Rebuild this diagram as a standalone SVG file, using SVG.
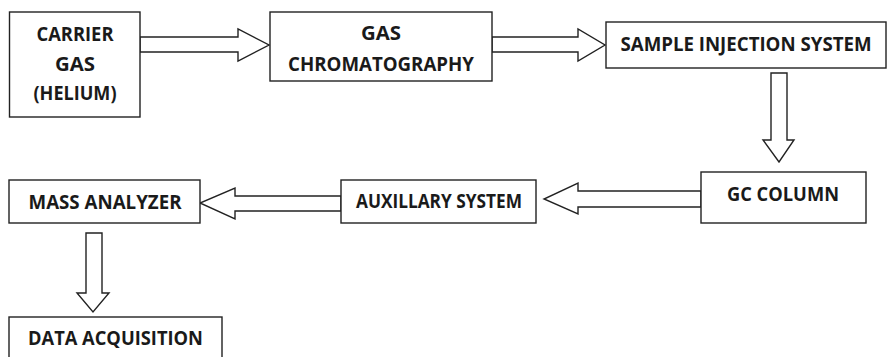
<svg xmlns="http://www.w3.org/2000/svg" width="887" height="357" viewBox="0 0 887 357">
<style>
.box{fill:#fff;stroke:#222;stroke-width:1.4}
.arr{fill:#fff;stroke:#222;stroke-width:1.4;stroke-linejoin:miter}
.t{font-family:"Open Sans","Liberation Sans",sans-serif;font-weight:bold;font-size:19.5px;fill:#1a1a1a;text-anchor:middle}
</style>
<rect width="887" height="357" fill="#fff"/>
<g id="connectors">
<polygon class="arr" points="140,37 238,37 238,29 269,45 238,61 238,52 140,52"/>
<polygon class="arr" points="492,37 578,37 578,29 605,45 578,61 578,52 492,52"/>
<polygon class="arr" points="771,73 787,73 787,140 794,140 779,162 763,140 771,140"/>
<polygon class="arr" points="701,191 578,191 578,183 544,199 578,214 578,207 701,207"/>
<polygon class="arr" points="341,196 235,196 235,188 200,203 235,219 235,211 341,211"/>
<polygon class="arr" points="86,233 102,233 102,293 109,293 93,312 77,293 86,293"/>
</g>
<g id="carrier">
<rect class="box" x="9.5" y="12" width="130.5" height="105"/>
<text class="t" x="75" y="41" textLength="77" lengthAdjust="spacingAndGlyphs">CARRIER</text>
<text class="t" x="75" y="71" textLength="40" lengthAdjust="spacingAndGlyphs">GAS</text>
<text class="t" x="75" y="100" textLength="83" lengthAdjust="spacingAndGlyphs">(HELIUM)</text>
</g>
<g id="gc">
<rect class="box" x="270" y="12" width="222" height="69"/>
<text class="t" x="381" y="40" textLength="40" lengthAdjust="spacingAndGlyphs">GAS</text>
<text class="t" x="381" y="71" textLength="186" lengthAdjust="spacingAndGlyphs">CHROMATOGRAPHY</text>
</g>
<g id="sample">
<rect class="box" x="606" y="22" width="280" height="46"/>
<text class="t" x="746" y="51" textLength="251" lengthAdjust="spacingAndGlyphs">SAMPLE INJECTION SYSTEM</text>
</g>
<g id="column">
<rect class="box" x="701" y="172" width="165" height="51"/>
<text class="t" x="783" y="201" textLength="112" lengthAdjust="spacingAndGlyphs">GC COLUMN</text>
</g>
<g id="aux">
<rect class="box" x="341" y="180" width="195" height="43"/>
<text class="t" x="439" y="208" textLength="166" lengthAdjust="spacingAndGlyphs">AUXILLARY SYSTEM</text>
</g>
<g id="mass">
<rect class="box" x="9" y="180" width="191" height="43"/>
<text class="t" x="105" y="209" textLength="153" lengthAdjust="spacingAndGlyphs">MASS ANALYZER</text>
</g>
<g id="data">
<rect class="box" x="9" y="317" width="213" height="50"/>
<text class="t" x="115.5" y="345" textLength="175" lengthAdjust="spacingAndGlyphs">DATA ACQUISITION</text>
</g>
</svg>
